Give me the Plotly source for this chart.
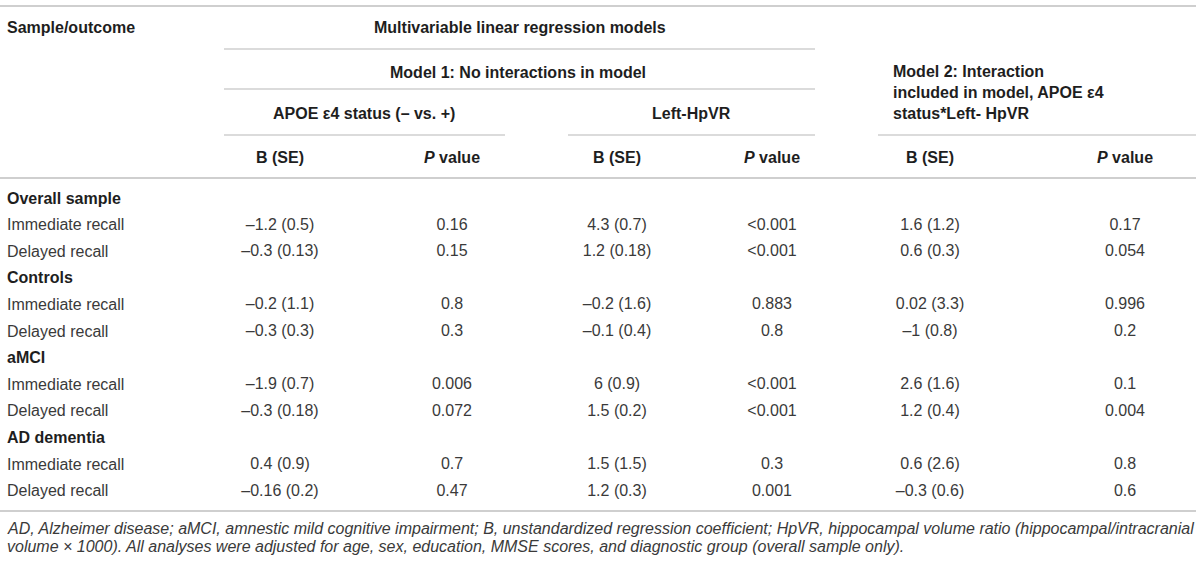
import plotly.graph_objects as go

# table data
groups = ["Overall sample", "Controls", "aMCI", "AD dementia"]
outcomes = ["Immediate recall", "Delayed recall"]

apoe_b = [-1.2, -0.3, -0.2, -0.3, -1.9, -0.3, 0.4, -0.16]
apoe_se = [0.5, 0.13, 1.1, 0.3, 0.7, 0.18, 0.9, 0.2]
apoe_p = ["0.16", "0.15", "0.8", "0.3", "0.006", "0.072", "0.7", "0.47"]

hpvr_b = [4.3, 1.2, -0.2, -0.1, 6, 1.5, 1.5, 1.2]
hpvr_se = [0.7, 0.18, 1.6, 0.4, 0.9, 0.2, 1.5, 0.3]
hpvr_p = ["<0.001", "<0.001", "0.883", "0.8", "<0.001", "<0.001", "0.3", "0.001"]

int_b = [1.6, 0.6, 0.02, -1, 2.6, 1.2, 0.6, -0.3]
int_se = [1.2, 0.3, 3.3, 0.8, 1.6, 0.4, 2.6, 0.6]
int_p = ["0.17", "0.054", "0.996", "0.2", "0.1", "0.004", "0.8", "0.6"]

footnote = ["AD, Alzheimer disease; aMCI, amnestic mild cognitive impairment; B, unstandardized regression coefficient; "
            "HpVR, hippocampal volume ratio (hippocampal/intracranial",
            "volume \u00d7 1000). All analyses were adjusted for age, sex, education, MMSE scores, "
            "and diagnostic group (overall sample only)."]

# layout constants (page pixels)
W, H = 1200, 563
FONT = "Liberation Sans, Arial, Helvetica, sans-serif"
TXT = "#3a3a3a"
HEAD = "#1e1e1e"
RULE = "#cfcfcf"
col_x = [280, 452, 617, 772, 930, 1125]
ROW0, ROWH = 199, 26.6


def fmt_b(b, se):
    s = f"{b:g} ({se:g})"
    return s.replace("-", "\u2013")


def esc(s):
    return s.replace("<", "&lt;")


# build body rows: group header then two outcome rows
labels, bold, cells = [], [], [[] for _ in range(6)]
k = 0
for g in groups:
    labels.append(g)
    bold.append(True)
    for c in cells:
        c.append("")
    for o in outcomes:
        labels.append(o)
        bold.append(False)
        cells[0].append(fmt_b(apoe_b[k], apoe_se[k]))
        cells[1].append(esc(apoe_p[k]))
        cells[2].append(fmt_b(hpvr_b[k], hpvr_se[k]))
        cells[3].append(esc(hpvr_p[k]))
        cells[4].append(fmt_b(int_b[k], int_se[k]))
        cells[5].append(esc(int_p[k]))
        k += 1

row_y = [ROW0 + i * ROWH for i in range(len(labels))]

fig = go.Figure()
for j in range(6):
    fig.add_trace(go.Scatter(
        x=[col_x[j]] * len(row_y), y=row_y, text=cells[j], mode="text",
        textposition="middle center", hoverinfo="skip", showlegend=False,
        textfont=dict(family=FONT, size=16, color=TXT)))

ann = []
for lab, b, y in zip(labels, bold, row_y):
    ann.append(dict(x=5, y=y - 1, text=f"<b>{lab}</b>" if b else lab, xanchor="left",
                    yanchor="middle", showarrow=False,
                    font=dict(family=FONT, size=16, color=HEAD if b else TXT)))


def head(x, y, text, anchor="center"):
    ann.append(dict(x=x, y=y, text=f"<b>{text}</b>", xanchor=anchor, yanchor="middle",
                    showarrow=False, align="left", font=dict(family=FONT, size=16, color=HEAD)))


head(5, 27, "Sample/outcome", "left")
head(520, 27, "Multivariable linear regression models")
head(518, 72, "Model 1: No interactions in model")
head(364, 113, "APOE \u03b54 status (\u2013 vs. +)")
head(691, 113, "Left-HpVR")
head(891, 92.5, "Model 2: Interaction<br>included in model, APOE \u03b54<br>status*Left- HpVR", "left")
for j in range(6):
    head(col_x[j], 157, "B (SE)" if j % 2 == 0 else "<i>P</i> value")

for i, line in enumerate(footnote):
    ann.append(dict(x=5, y=528 + i * 18, text=f"<i>{line}</i>", xanchor="left", yanchor="middle",
                    showarrow=False, font=dict(family=FONT, size=16, color=TXT)))

# horizontal rules
rules = [(0, 1196, 6, 2), (224, 815, 49, 1.5), (224, 815, 89, 1.5),
         (224, 505, 135, 1.5), (568, 815, 135, 1.5), (878, 1196, 135, 1.5),
         (0, 1196, 178, 2), (0, 1196, 511, 2)]
shapes = [dict(type="line", xref="x", yref="y", x0=a, x1=b, y0=y, y1=y,
               line=dict(color=RULE, width=w)) for a, b, y, w in rules]

fig.update_layout(
    width=W, height=H, margin=dict(l=0, r=0, t=0, b=0),
    paper_bgcolor="white", plot_bgcolor="white",
    xaxis=dict(range=[0, W], visible=False, fixedrange=True),
    yaxis=dict(range=[H, 0], visible=False, fixedrange=True),
    annotations=ann, shapes=shapes, showlegend=False)

# drop the default page margin so the table sits at the window's top-left corner
fig.write_html("out.html", config={"displayModeBar": False},
               post_script="document.body.style.margin='0';")
